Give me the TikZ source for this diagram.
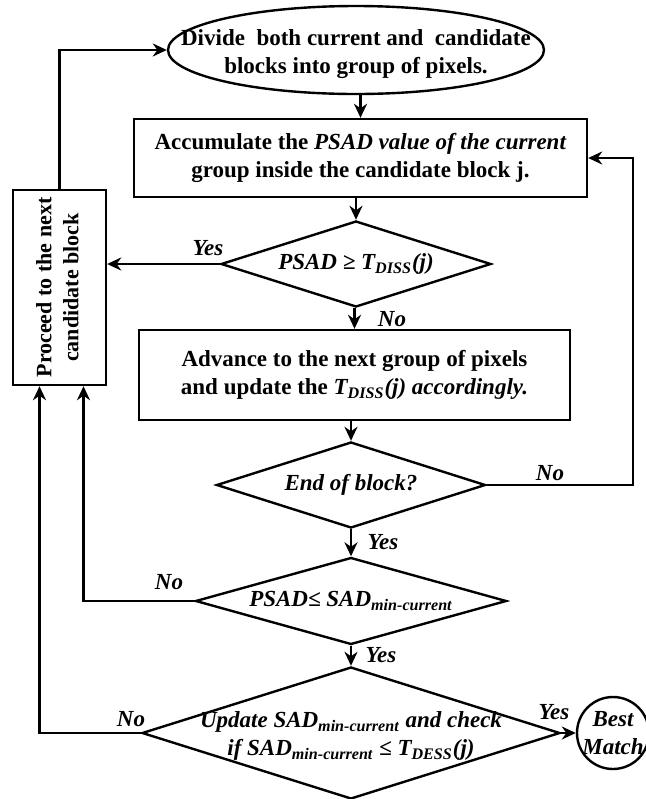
\documentclass[tikz,border=0pt]{standalone}
\usepackage{fontspec}
\setmainfont{Liberation Serif}
\usetikzlibrary{shapes.geometric,arrows.meta}

\begin{document}
\fontsize{11.5}{14}\selectfont
\begin{tikzpicture}[x=0.5pt,y=-0.5pt,line width=1.2pt,lbl/.style={font=\bfseries\itshape, inner sep=1pt},arr/.style={-{Stealth[length=7pt,width=6.5pt]}}]
\tikzstyle{box}=[rectangle, draw, align=center, font=\bfseries, inner sep=2pt]
\tikzstyle{dia}=[diamond, draw, inner sep=0pt]
\useasboundingbox (0,0) rectangle (645,799);
\node[ellipse, draw, inner sep=0pt, minimum width=188pt, minimum height=44pt, label={[align=center, font=\bfseries, yshift=-2pt]center:{Divide~ both current and~ candidate\\blocks into group of pixels.}}] (div) at (356,50) {};
\node[box, minimum width=226.5pt, minimum height=39pt] (acc) at (360.5,158) {Accumulate the \textit{PSAD value of the current}\\group inside the candidate block j.};
\node[dia, minimum width=135pt, minimum height=43pt, label={[lbl]center:PSAD ≥ T\textsubscript{DISS}(j)}] (d1) at (356,264) {};
\node[box, inner sep=0pt, minimum width=46.5pt, minimum height=97.5pt] (next) at (59.5,287.5) {\rotatebox{90}{\fontsize{11}{13.5}\selectfont\begin{tabular}{@{}c@{}}Proceed to the next\\candidate block\end{tabular}}};
\node[box, minimum width=215.5pt, minimum height=45pt] (adv) at (354.5,375) {Advance to the next group of pixels\\and update the \textit{T\textsubscript{DISS}(j) accordingly.}};
\node[dia, minimum width=134.5pt, minimum height=43pt, label={[lbl]center:End of block?}] (d2) at (351,485) {};
\node[dia, minimum width=155.5pt, minimum height=43.5pt, label={[lbl]center:PSAD≤ SAD\textsubscript{min-current}}] (d3) at (351,601) {};
\node[dia, minimum width=209pt, minimum height=66pt, label={[lbl, align=center, yshift=-1.5pt]center:{Update SAD\textsubscript{min-current} and check\\if SAD\textsubscript{min-current} ≤ T\textsubscript{DESS}(j)}}] (d4) at (351,733) {};
\node[circle, draw, inner sep=0pt, minimum size=36pt, label={[lbl, align=center]center:{Best\\Match}}] (best) at (613,733) {};
% corner of the loop back to the accumulate box
\coordinate (back) at (633,158);
\foreach \a/\b in {div/acc,acc/d1,d1/adv,adv/d2,d2/d3,d3/d4}{\draw[arr] (\b.north |- \a.south) -- (\b.north);}
\draw[arr] (next.north) |- (div.west);
\draw[arr] (d1.west) -- (d1.west -| next.east);
\draw[arr] (d2.east) -| (back) -- (acc.east);
\draw[arr] (d3.west) -| ([xshift=12pt]next.south);
\draw[arr] (d4.west) -| ([xshift=-10pt]next.south);
\draw[arr] (d4.east) -- (best.west);
\foreach \x/\y/\t [count=\i] in {208/248/Yes,392/319/No,550/473/No,383/542/Yes,169/582/No,381/655/Yes,131/719/No,554/712/Yes}{\node[lbl] (yn\i) at (\x,\y) {\t};}
\end{tikzpicture}
\end{document}
